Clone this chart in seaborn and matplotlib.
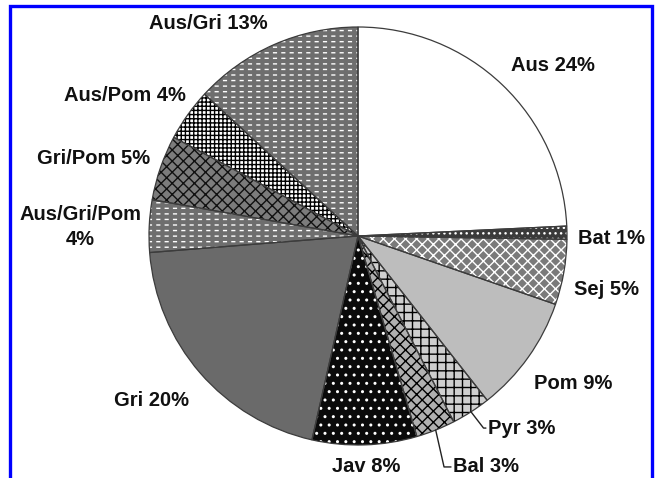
import numpy as np
import seaborn as sns
import matplotlib.pyplot as plt
from matplotlib.patches import Rectangle

# pie data, clockwise from 12 o'clock
labels = ["Aus 24%", "Bat 1%", "Sej 5%", "Pom 9%", "Pyr 3%", "Bal 3%",
          "Jav 8%", "Gri 20%", "Aus/Gri/Pom\n4%", "Gri/Pom 5%", "Aus/Pom 4%", "Aus/Gri 13%"]
shares = [24, 1, 5, 9, 3, 3, 8, 20, 4, 5, 4, 13]

# grey fills + hatch pattern/colour per slice (black & white print look)
faces = ["#ffffff", "#3a3a3a", "#7a7a7a", "#bdbdbd", "#cfcfcf", "#b0b0b0",
         "#0a0a0a", "#6a6a6a", "#6e6e6e", "#7c7c7c", "#ffffff", "#6e6e6e"]
hatches = ["", "...", "xxx", "", "++", "xxx", "..", "", "---", "xxx", "++++", "---"]
hatch_cols = ["#000000", "#ffffff", "#ffffff", "#000000", "#000000", "#000000",
              "#ffffff", "#000000", "#ffffff", "#111111", "#000000", "#ffffff"]
dashed = [8, 11]   # white line hatch broken up into dashes

# label layout (data units, pie radius = 1)
label_xy = [(0.933, 0.818), (1.215, -0.014), (1.187, -0.254), (1.029, -0.708),
            (0.622, -0.919), (0.455, -1.105), (0.038, -1.105), (-0.986, -0.789),
            (-1.330, 0.043), (-1.263, 0.373), (-1.115, 0.670), (-0.718, 1.019)]
leader = {4: 0.06, 5: 0.04}   # slices with a leader line -> elbow x offset

sns.set_theme(style="white")
plt.rcParams['font.family'] = ['Liberation Sans', 'DejaVu Sans']
plt.rcParams['hatch.linewidth'] = 1.0

fig = plt.figure(figsize=(6.55, 4.78), dpi=100)
ax = fig.add_axes([0, 0, 1, 1])

wedges, _ = ax.pie(shares, colors=faces, startangle=90, counterclock=False,
                   wedgeprops=dict(linewidth=0))
for w, h, hc in zip(wedges, hatches, hatch_cols):
    w.set_hatch(h)
    w.set_edgecolor(hc)

# vertical strokes in the fill colour cut the white lines into dashes
gaps, _ = ax.pie(shares, colors=["none"] * len(shares), startangle=90, counterclock=False,
                 wedgeprops=dict(linewidth=0, fill=False))
for i, g in enumerate(gaps):
    if i in dashed:
        g.set_hatch("||")
        g.set_edgecolor(faces[i])
        if hasattr(g, "set_hatch_linewidth"):
            g.set_hatch_linewidth(3.0)
    else:
        g.set_visible(False)

# outlines on top
ax.pie(shares, colors=["none"] * len(shares), startangle=90, counterclock=False,
       wedgeprops=dict(linewidth=0.9, edgecolor="#3c3c3c", fill=False))

for i, (w, lab, (tx, ty)) in enumerate(zip(wedges, labels, label_xy)):
    if i in leader:
        mid = np.deg2rad((w.theta1 + w.theta2) / 2)
        ex, ey = np.cos(mid), np.sin(mid)
        ax.plot([ex, ex + leader[i], tx - 0.01], [ey, ty, ty], color="#222222", lw=1.0)
        ax.text(tx, ty, lab, ha="left", va="center", fontsize=14.5,
                fontweight="bold", color="#111111")
    else:
        ax.text(tx, ty, lab, ha="center", va="center", fontsize=14.5,
                fontweight="bold", color="#111111", linespacing=1.35,
                multialignment="center")

ax.set_xlim(-358 / 209, (655 - 358) / 209)
ax.set_ylim(-(478 - 236) / 209, 236 / 209)
ax.set_aspect("equal")
ax.axis("off")

# blue frame of the scanned figure (bottom edge cut off)
fig.patches.append(Rectangle((10 / 655, -0.1), 642 / 655, 1.1 - 6 / 478,
                             transform=fig.transFigure, fill=False,
                             edgecolor="#0000ff", linewidth=2.4))

fig.savefig("out.png", dpi=100)
